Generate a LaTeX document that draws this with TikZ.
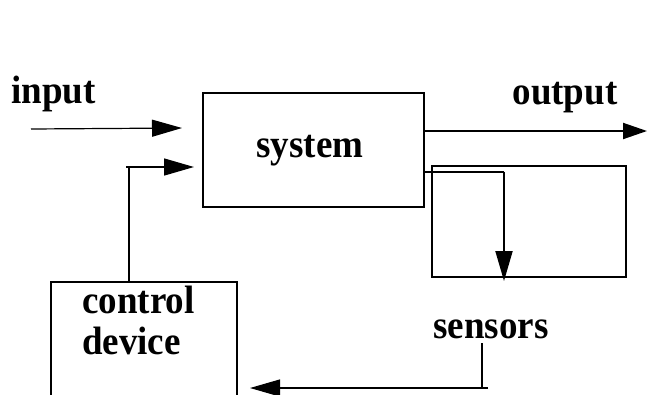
\documentclass[tikz,border=0pt]{standalone}
\usepackage{fontspec}
\usepackage{graphicx}
\setmainfont{Liberation Serif}
\usetikzlibrary{arrows.meta}
% bold serif label, slightly taller than wide
\newcommand{\tallbf}[1]{\scalebox{1}[1.07]{#1}}
\begin{document}
\begin{tikzpicture}[x=1pt,y=-1pt,
  lbl/.style={font=\fontsize{37}{40}\selectfont\bfseries, inner sep=0pt},
  blockbox/.style={draw, line width=2pt, inner sep=0pt},
  thin/.style={line width=1.2pt},
  thick/.style={line width=2pt},
  headA/.style={-{Triangle[length=30pt,width=17pt]}},
  headB/.style={-{Triangle[length=24pt,width=16pt]}}]
\useasboundingbox (0,0) rectangle (647,394);
\begin{scope}
\clip (0,0) rectangle (647,394);

% blocks
\node[blockbox, minimum width=221pt, minimum height=114pt] (sys) at (313.5,150) {};
\node[blockbox, minimum width=194pt, minimum height=111pt] (sens) at (529,221.5) {};
\node[blockbox, minimum width=186pt, minimum height=140pt] (ctrl) at (144,352) {};

% labels
\node[lbl, anchor=base] (tin) at (53.5,103) {\tallbf{input}};
\node[lbl, anchor=base] (tout) at (565,104) {\tallbf{output}};
\node[lbl, anchor=base] (tsys) at (310,157) {\tallbf{system}};
\node[lbl, anchor=base] (tsens) at (491,338) {\tallbf{sensors}};
\node[lbl, anchor=base west] (tctrl) at (82,313) {\tallbf{control}};
\node[lbl, anchor=base west] (tdev) at (82,354) {\tallbf{device}};

% connector ends
\coordinate (inS) at (31,129);
\coordinate (inE) at (182,128);
\coordinate (fbT) at (194,167);
\coordinate (fbC) at (129,167);
\coordinate (fbL) at (126,167);
\coordinate (outE) at (647,131);
\coordinate (tapS) at (424,171.5);
\coordinate (tapC) at (504,171.5);
\coordinate (tapE) at (504,281);
\coordinate (snS) at (482,343);
\coordinate (snC) at (482,388);
\coordinate (snR) at (488,388);
\coordinate (snE) at (250,388);

% connectors
\draw[thin, headA] (inS) -- (inE);
\draw[thick] (fbC |- ctrl.north) -- (fbC);
\draw[line width=1.5pt, headA] (fbL) -- (fbT);
\draw[thick, headB] (sys.east |- outE) -- (outE);
\draw[thick] (tapS) -- (tapC);
\draw[thick, headA] (tapC) -- (tapE);
\draw[thick] (snS) -- (snC);
\draw[thin, headA] (snR) -- (snE);
\end{scope}
\end{tikzpicture}
\end{document}
